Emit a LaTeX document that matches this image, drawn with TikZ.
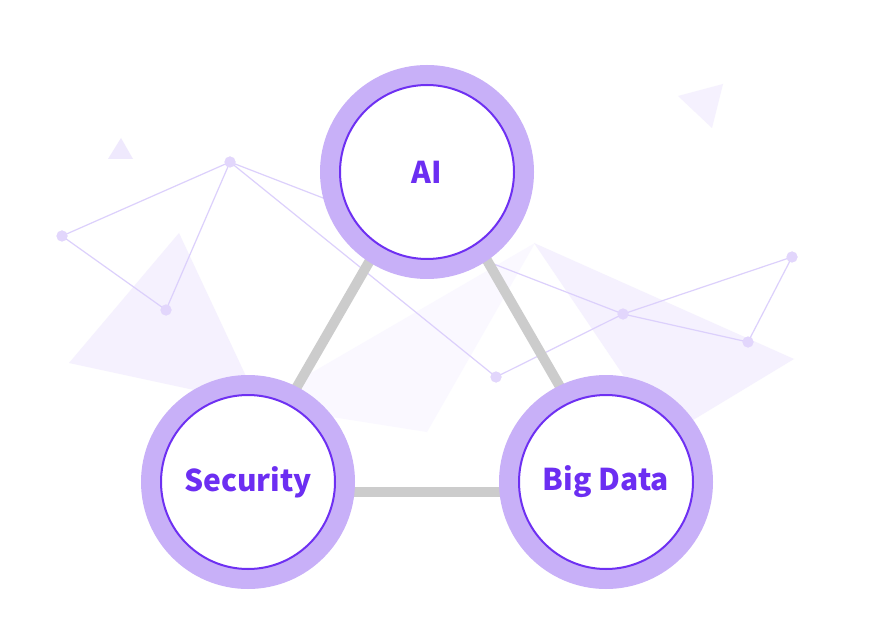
\documentclass[tikz,border=0pt]{standalone}
\usepackage{fontspec}
\newfontfamily\labelfont{Noto Sans CJK KR}
\definecolor{ringc}{HTML}{C8B0F8}
\definecolor{innerc}{HTML}{6E30F2}
\definecolor{textc}{HTML}{6C2EF2}
\definecolor{barc}{HTML}{CCCCCC}
\definecolor{netc}{HTML}{DCD0FC}
\definecolor{dotc}{HTML}{E2D6FC}
\definecolor{triA}{HTML}{F5F1FE}
\definecolor{triB}{HTML}{FAF8FF}
\definecolor{triC}{HTML}{EFE9FD}
\pgfdeclarelayer{bg}
\pgfsetlayers{bg,main}
\tikzset{
  ring/.style={circle, fill=ringc, minimum size=214pt, inner sep=0pt,
    text=textc, font=\labelfont\bfseries\fontsize{30}{36}\selectfont,
    path picture={\draw[fill=white, draw=innerc, line width=2pt]
      (path picture bounding box.center) circle (87pt);}},
  bar/.style={draw=barc, line width=10pt},
  net/.style={draw=netc, line width=1.2pt},
  dot/.style={circle, fill=dotc, minimum size=11pt, inner sep=0pt},
  tri/.style={fill=#1, draw=none}
}
\begin{document}
\begin{tikzpicture}[x=1pt, y=-1pt]
\useasboundingbox (0,0) rectangle (875,636);
% circles
\node[ring] (ai) at (427,172) {AI};
\node[ring] (sec) at (248,482) {Security};
\node[ring] (bd) at (606,482) {Big Data};
\begin{pgfonlayer}{bg}
  \fill[white] (0,0) rectangle (875,636);
  % faint triangles
  \fill[tri=triC] (108,159) -- (121,138) -- (133,159) -- cycle;
  \fill[tri=triA] (678,96) -- (723,84) -- (712,128) -- cycle;
  \fill[tri=triA] (179,233) -- (69,363) -- (259,404) -- cycle;
  \fill[tri=triB] (535,243) -- (256,405) -- (427,432) -- cycle;
  \fill[tri=triA] (534,243) -- (794,359) -- (665,437) -- cycle;
  % network
  \node[dot] (p1) at (62,236) {};
  \node[dot] (p2) at (230,162) {};
  \node[dot] (p3) at (166,310) {};
  \node[dot] (p4) at (496,377) {};
  \node[dot] (p5) at (623,314) {};
  \node[dot] (p6) at (792,257) {};
  \node[dot] (p7) at (748,342) {};
  \draw[net] (p1.center) -- (p2.center);
  \draw[net] (p1.center) -- (p3.center);
  \draw[net] (p3.center) -- (p2.center);
  \draw[net] (p2.center) -- (p4.center);
  \draw[net] (p2.center) -- (p5.center);
  \draw[net] (p4.center) -- (p5.center);
  \draw[net] (p5.center) -- (p6.center);
  \draw[net] (p5.center) -- (p7.center);
  \draw[net] (p7.center) -- (p6.center);
  \foreach \p in {p1,p2,p3,p4,p5,p6,p7} \fill[dotc] (\p) circle (5.5pt);
  % gray bars
  \draw[bar] ([xshift=-6pt]ai.center) -- ([xshift=-6pt]sec.center);
  \draw[bar] ([xshift=9pt]ai.center) -- ([xshift=9pt]bd.center);
  \draw[bar] ([yshift=-10pt]sec.center) -- ([yshift=-10pt]bd.center);
\end{pgfonlayer}
\end{tikzpicture}
\end{document}
